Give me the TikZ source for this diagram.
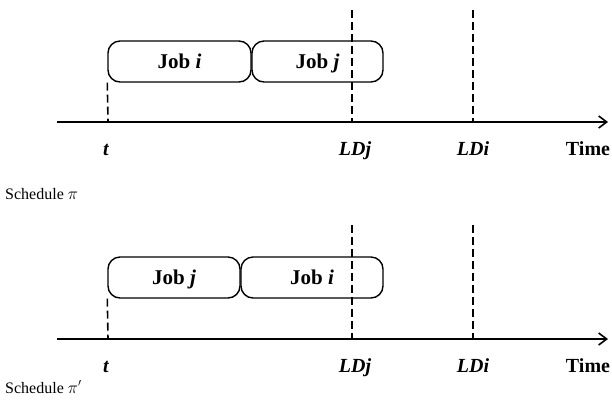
\documentclass[tikz,border=0pt]{standalone}
\usepackage{fontspec}
\setmainfont{Liberation Serif}
\usetikzlibrary{arrows.meta}
\tikzset{
  jobbox/.style={draw, line width=1.4bp, rounded corners=12bp, fill=white,
    minimum height=41bp, inner sep=0pt, text height=14bp, text depth=0pt,
    font=\fontsize{21bp}{25bp}\selectfont\bfseries},
  timeaxis/.style={line width=1.6bp, -{Straight Barb[length=8bp,width=12bp]}},
  deadline/.style={line width=1.6bp, dash pattern=on 8bp off 4bp},
  ticklabel/.style={anchor=base, inner sep=0pt,
    font=\fontsize{20bp}{24bp}\selectfont\bfseries\itshape},
  timelabel/.style={anchor=base, inner sep=0pt,
    font=\fontsize{20bp}{24bp}\selectfont\bfseries},
  caption/.style={anchor=base west, inner sep=0pt,
    font=\fontsize{16bp}{19bp}\selectfont}
}
\begin{document}
\begin{tikzpicture}[x=1bp,y=-1bp]
      \useasboundingbox (0,0) rectangle (612,404);
      % schedule pi
      \node[jobbox, minimum width=143bp] (ai) at (179.5,61.5) {Job \textit{i}};
      \node[jobbox, minimum width=131bp] (aj) at (317.5,61.5) {Job \textit{j}};
      \coordinate (astart) at (57,122);
      \coordinate (aend) at (608,122);
      \coordinate (at) at (108,122);
      \coordinate (aldj) at (352,122);
      \coordinate (aldjtop) at (352,10);
      \coordinate (aldi) at (473,122);
      \coordinate (alditop) at (473,10);
      \node[ticklabel] (atl) at (106,155) {t};
      \node[ticklabel] (aldjl) at (355,155) {LDj};
      \node[ticklabel] (aldil) at (473,155) {LDi};
      \node[timelabel] (atime) at (588,155) {Time};
      \node[caption] (acap) at (5,199) {Schedule $\pi$};
      \draw[timeaxis] (astart) -- (aend);
      \draw[deadline] (ai.south west) -- (at);
      \draw[deadline] (aldjtop) -- (aldj);
      \draw[deadline] (alditop) -- (aldi);
      % schedule pi'
      \node[jobbox, minimum width=132bp] (bj) at (174,277.5) {Job \textit{j}};
      \node[jobbox, minimum width=142bp] (bi) at (312,277.5) {Job \textit{i}};
      \coordinate (bstart) at (57,339);
      \coordinate (bend) at (608,339);
      \coordinate (bt) at (108,339);
      \coordinate (bldj) at (352,339);
      \coordinate (bldjtop) at (352,225);
      \coordinate (bldi) at (473,339);
      \coordinate (blditop) at (473,225);
      \node[ticklabel] (btl) at (106,372) {t};
      \node[ticklabel] (bldjl) at (355,372) {LDj};
      \node[ticklabel] (bldil) at (473,372) {LDi};
      \node[timelabel] (btime) at (588,372) {Time};
      \node[caption] (bcap) at (5,393) {Schedule $\pi'$};
      \draw[timeaxis] (bstart) -- (bend);
      \draw[deadline] (bj.south west) -- (bt);
      \draw[deadline] (bldjtop) -- (bldj);
      \draw[deadline] (blditop) -- (bldi);
    \end{tikzpicture}
\end{document}
